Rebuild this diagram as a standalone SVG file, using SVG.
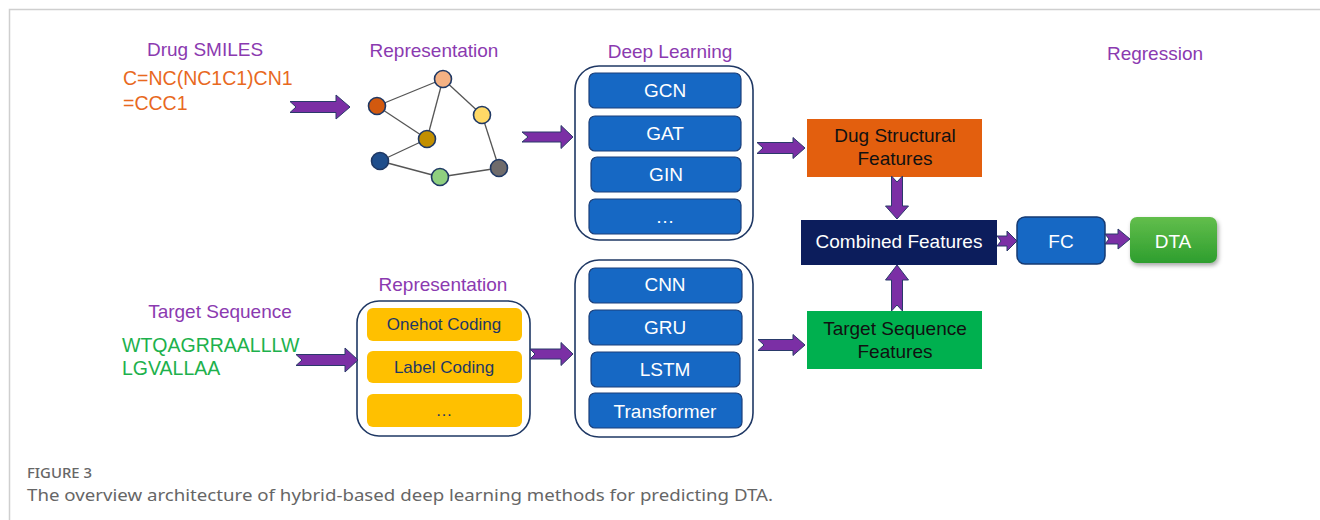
<svg xmlns="http://www.w3.org/2000/svg" width="1320" height="520" viewBox="0 0 1320 520">
<defs>
<style>
text{font-family:"Liberation Sans",Arial,sans-serif}
.ttl{fill:#8B3AB0;font-size:19px;text-anchor:middle}
.box{fill:#1668C4;stroke:#1B3F7A;stroke-width:1.2}
.ybox{fill:#FFC000}
.wt{fill:#fff;font-size:19px;text-anchor:middle}
.yt{fill:#1F3864;font-size:17px;text-anchor:middle}
.cont{fill:#fff;stroke:#1F3864;stroke-width:1.6}
.arr{fill:#7B2FA5;stroke:#2A3A6A;stroke-width:1;stroke-linejoin:miter}
.edge{stroke:#555;stroke-width:1.3;fill:none}
.nd{stroke:#1F3864;stroke-width:1.6}
.bt{fill:#111;font-size:19px;text-anchor:middle}
.cap{font-family:"Noto Sans","Open Sans",sans-serif;fill:#666}
</style>
<linearGradient id="gDTA" x1="0" y1="0" x2="0" y2="1">
<stop offset="0" stop-color="#62BE4C"/>
<stop offset="1" stop-color="#2E9E2E"/>
</linearGradient>
<filter id="sh" x="-20%" y="-20%" width="150%" height="160%">
<feDropShadow dx="1.5" dy="2.5" stdDeviation="2" flood-color="#000" flood-opacity="0.35"/>
</filter>
</defs>
<rect width="1320" height="520" fill="#fff"/>
<path d="M9.5,520 V9.5 H1320" fill="none" stroke="#cfcfcf" stroke-width="1.5"/>

<g id="drug-smiles">
<text class="ttl" x="205" y="56">Drug SMILES</text>
<text x="123" y="85" fill="#E8691E" font-size="19.5">C=NC(NC1C1)CN1</text>
<text x="123" y="110" fill="#E8691E" font-size="19.5">=CCC1</text>
</g>

<g id="graph-representation">
<text class="ttl" x="434" y="57" font-size="18">Representation</text>
<g class="edge">
<line x1="443" y1="79" x2="377" y2="106"/>
<line x1="443" y1="79" x2="427" y2="139"/>
<line x1="443" y1="79" x2="482" y2="115"/>
<line x1="377" y1="106" x2="427" y2="139"/>
<line x1="427" y1="139" x2="380" y2="161"/>
<line x1="380" y1="161" x2="440" y2="177"/>
<line x1="440" y1="177" x2="499" y2="168"/>
<line x1="482" y1="115" x2="499" y2="168"/>
</g>
<circle class="nd" cx="443" cy="79" r="8.5" fill="#F4B183"/>
<circle class="nd" cx="377" cy="106" r="8.5" fill="#D2590F"/>
<circle class="nd" cx="482" cy="115" r="8.5" fill="#FFD966"/>
<circle class="nd" cx="427" cy="139" r="8.5" fill="#C28F00"/>
<circle class="nd" cx="380" cy="161" r="8.5" fill="#1F4E8C"/>
<circle class="nd" cx="440" cy="177" r="8.5" fill="#8FCF7F"/>
<circle class="nd" cx="499" cy="168" r="8.5" fill="#6F6B6B"/>
</g>

<g id="deep-learning-drug">
<text class="ttl" x="670" y="58">Deep Learning</text>
<rect class="cont" x="575" y="66" width="178" height="174" rx="24"/>
<rect class="box" x="589" y="73" width="152" height="35" rx="6"/>
<text class="wt" x="665" y="97">GCN</text>
<rect class="box" x="589" y="116" width="152" height="35" rx="6"/>
<text class="wt" x="665" y="140">GAT</text>
<rect class="box" x="591" y="157" width="150" height="35" rx="6"/>
<text class="wt" x="666" y="181">GIN</text>
<rect class="box" x="589" y="199" width="152" height="35" rx="6"/>
<text class="wt" x="665" y="223" font-size="15">…</text>
</g>

<g id="drug-structural-features">
<rect x="807" y="119" width="175" height="58" fill="#E35F0E"/>
<text class="bt" x="895" y="142">Dug Structural</text>
<text class="bt" x="895" y="165">Features</text>
</g>

<g id="combined-features">
<rect x="801" y="220" width="196" height="45" fill="#0C1D5C"/>
<text class="wt" x="899" y="248">Combined Features</text>
</g>

<g id="fc">
<rect x="1017" y="217" width="88" height="47" rx="8" fill="#1668C4" stroke="#163A72" stroke-width="1.5"/>
<text class="wt" x="1061" y="248" font-size="20">FC</text>
</g>

<g id="dta">
<text class="ttl" x="1155" y="60">Regression</text>
<rect x="1130" y="217" width="87" height="46" rx="7" fill="url(#gDTA)" filter="url(#sh)"/>
<text class="wt" x="1173" y="248" font-size="20">DTA</text>
</g>

<g id="target-sequence">
<text class="ttl" x="220" y="318">Target Sequence</text>
<text x="122" y="352" fill="#1DB14C" font-size="19.5">WTQAGRRAALLLW</text>
<text x="122" y="375" fill="#1DB14C" font-size="19.5">LGVALLAA</text>
</g>

<g id="sequence-representation">
<text class="ttl" x="443" y="291" font-size="18">Representation</text>
<rect class="cont" x="357" y="301" width="173" height="135" rx="22"/>
<rect class="ybox" x="367" y="308" width="155" height="33" rx="6"/>
<text class="yt" x="444" y="330">Onehot Coding</text>
<rect class="ybox" x="367" y="351" width="155" height="32" rx="6"/>
<text class="yt" x="444" y="373">Label Coding</text>
<rect class="ybox" x="367" y="394" width="155" height="33" rx="6"/>
<text class="yt" x="444" y="416" font-size="14" fill="#6b6b6b">…</text>
</g>

<g id="deep-learning-target">
<rect class="cont" x="575" y="260" width="178" height="177" rx="24"/>
<rect class="box" x="589" y="268" width="153" height="35" rx="6"/>
<text class="wt" x="665" y="291">CNN</text>
<rect class="box" x="589" y="310" width="153" height="35" rx="6"/>
<text class="wt" x="665" y="334">GRU</text>
<rect class="box" x="591" y="352" width="149" height="35" rx="6"/>
<text class="wt" x="665" y="376">LSTM</text>
<rect class="box" x="589" y="393" width="153" height="35" rx="6"/>
<text class="wt" x="665" y="418">Transformer</text>
</g>

<g id="target-sequence-features">
<rect x="807" y="311" width="175" height="58" fill="#00B04F"/>
<text class="bt" x="895" y="335">Target Sequence</text>
<text class="bt" x="895" y="358">Features</text>
</g>

<g id="connectors">
<path class="arr" d="M290,101.5 L336,101.5 L336,95 L350,107 L336,119 L336,112.5 L290,112.5 L296,107 Z"/>
<path class="arr" d="M522,132 L561,132 L561,125.5 L573,137 L561,148.5 L561,142 L522,142 L528,137 Z"/>
<path class="arr" d="M757,142.5 L793,142.5 L793,137.5 L805,148 L793,158.5 L793,153.5 L757,153.5 L763,148 Z"/>
<path class="arr" d="M891.5,176 L897,182 L902.5,176 L902.5,206 L908.5,206 L897,219 L885.5,206 L891.5,206 Z"/>
<path class="arr" d="M997,236 L1007,236 L1007,231 L1017,241 L1007,251 L1007,246 L997,246 L1001,241 Z"/>
<path class="arr" d="M1105,234 L1118,234 L1118,229 L1130,239 L1118,249 L1118,244 L1105,244 L1109,239 Z"/>
<path class="arr" d="M296,354.5 L345,354.5 L345,348 L358,360 L345,372 L345,365.5 L296,365.5 L302,360 Z"/>
<path class="arr" d="M530,349 L561,349 L561,342.5 L573,354 L561,365.5 L561,359 L530,359 L535,354 Z"/>
<path class="arr" d="M758,339.5 L793,339.5 L793,334.5 L805,345 L793,355.5 L793,350.5 L758,350.5 L764,345 Z"/>
<path class="arr" d="M891.5,311 L897,305 L902.5,311 L902.5,280 L908.5,280 L897,265 L885.5,280 L891.5,280 Z"/>
</g>

<g id="caption">
<text class="cap" x="27" y="478" font-size="14" font-weight="500" fill="#6e6e6e" textLength="65" lengthAdjust="spacingAndGlyphs">FIGURE 3</text>
<text class="cap" x="27" y="501" font-size="17" textLength="746" lengthAdjust="spacingAndGlyphs">The overview architecture of hybrid-based deep learning methods for predicting DTA.</text>
</g>
</svg>
